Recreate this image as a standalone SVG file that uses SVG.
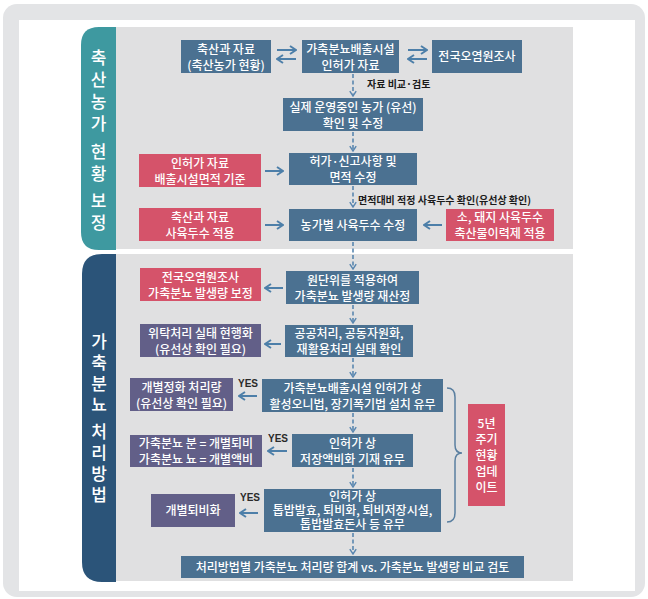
<svg xmlns="http://www.w3.org/2000/svg" width="648" height="599" viewBox="0 0 648 599">
<style>
.bx{fill:#4b7191}
.rd{fill:#d5536a}
.pp{fill:#625f88}
.t{fill:#fff;font-family:"Noto Sans CJK KR","Noto Sans",sans-serif;font-size:12px;font-weight:500;text-anchor:middle}
.side{fill:#fff;font-family:"Noto Sans CJK KR","Noto Sans",sans-serif;font-size:17px;font-weight:500;text-anchor:middle}
.lab{fill:#1a1a1a;font-family:"Noto Sans CJK KR","Noto Sans",sans-serif;font-size:10px;font-weight:700}
.yes{fill:#2a2a2a;font-family:"Liberation Sans",sans-serif;font-size:10px;font-weight:700}
.ar{stroke:#4d7fa9;stroke-width:2;fill:none}
.da{stroke:#5a87b0;stroke-width:1.6;fill:none;stroke-dasharray:4 2.5}
</style>
<defs>
<marker id="h" viewBox="0 0 8 10" refX="7" refY="5" markerWidth="8" markerHeight="10" markerUnits="userSpaceOnUse" orient="auto">
<path d="M1,1 L7,5 L1,9" fill="none" stroke="#4d7fa9" stroke-width="2"/>
</marker>
<marker id="hd" viewBox="0 0 8 10" refX="7" refY="5" markerWidth="7" markerHeight="8" markerUnits="userSpaceOnUse" orient="auto">
<path d="M1,1 L7,5 L1,9" fill="none" stroke="#5a87b0" stroke-width="1.8"/>
</marker>
</defs>
<rect x="3" y="4" width="642" height="593" rx="14" fill="#e3e4e6"/>
<rect x="19" y="20" width="616" height="571" fill="#ffffff"/>
<g id="section1">
<rect x="116" y="27" width="457" height="222" fill="#e0e0e1"/>
<path d="M116,27 L99,27 Q81,27 81,45 L81,232 Q81,250 99,250 L116,250 Z" fill="#3e99a0"/>
<text class="side"><tspan x="98.5" y="64">축</tspan><tspan x="98.5" y="86">산</tspan><tspan x="98.5" y="108">농</tspan><tspan x="98.5" y="130">가</tspan><tspan x="98.5" y="158">현</tspan><tspan x="98.5" y="180">황</tspan><tspan x="98.5" y="207">보</tspan><tspan x="98.5" y="229">정</tspan></text>
</g>
<g id="section2">
<rect x="116" y="254" width="457" height="327" fill="#e0e0e1"/>
<path d="M116,254 L102,254 Q82,254 82,274 L82,562 Q82,582 102,582 L116,582 Z" fill="#2b5479"/>
<text class="side"><tspan x="99" y="348">가</tspan><tspan x="99" y="369">축</tspan><tspan x="99" y="390">분</tspan><tspan x="99" y="411">뇨</tspan><tspan x="99" y="438">처</tspan><tspan x="99" y="459">리</tspan><tspan x="99" y="480">방</tspan><tspan x="99" y="501">법</tspan></text>
</g>
<g id="connectors">
<line class="ar" x1="277" y1="50" x2="296" y2="50" marker-end="url(#h)"/>
<line class="ar" x1="296" y1="59" x2="277" y2="59" marker-end="url(#h)"/>
<line class="ar" x1="408" y1="50" x2="427" y2="50" marker-end="url(#h)"/>
<line class="ar" x1="427" y1="59" x2="408" y2="59" marker-end="url(#h)"/>
<line class="da" x1="353" y1="74" x2="353" y2="96" marker-end="url(#hd)"/>
<line class="da" x1="353" y1="132" x2="353" y2="151" marker-end="url(#hd)"/>
<line class="da" x1="353" y1="186" x2="353" y2="207" marker-end="url(#hd)"/>
<line class="da" x1="353" y1="242" x2="353" y2="269" marker-end="url(#hd)"/>
<line class="da" x1="353" y1="305" x2="353" y2="323" marker-end="url(#hd)"/>
<line class="da" x1="353" y1="358" x2="353" y2="377" marker-end="url(#hd)"/>
<line class="da" x1="353" y1="413" x2="353" y2="432" marker-end="url(#hd)"/>
<line class="da" x1="353" y1="468" x2="353" y2="487" marker-end="url(#hd)"/>
<line class="da" x1="353" y1="533" x2="353" y2="554" marker-end="url(#hd)"/>
<line class="ar" x1="265" y1="171" x2="283" y2="171" marker-end="url(#h)"/>
<line class="ar" x1="265" y1="225" x2="283" y2="225" marker-end="url(#h)"/>
<line class="ar" x1="442" y1="225" x2="424" y2="225" marker-end="url(#h)"/>
<line class="ar" x1="283" y1="288" x2="265" y2="288" marker-end="url(#h)"/>
<line class="ar" x1="281" y1="344" x2="265" y2="344" marker-end="url(#h)"/>
<line class="ar" x1="257" y1="396" x2="239" y2="396" marker-end="url(#h)"/>
<line class="ar" x1="287" y1="451" x2="268" y2="451" marker-end="url(#h)"/>
<line class="ar" x1="258" y1="513" x2="240" y2="513" marker-end="url(#h)"/>
<path d="M447,388 Q455,388 455,397 L455,445 Q455,453 462,453 Q455,453 455,461 L455,513 Q455,522 447,522" fill="none" stroke="#5a7fa0" stroke-width="1.5"/>
<text class="lab" x="367" y="88">자료 비교·검토</text>
<text class="lab" x="358" y="204">면적대비 적정 사육두수 확인(유선상 확인)</text>
<text class="yes" x="238" y="387">YES</text>
<text class="yes" x="268" y="442">YES</text>
<text class="yes" x="240" y="501">YES</text>
</g>
<g id="n1"><rect class="bx" x="181" y="40" width="90" height="33"/><text class="t"><tspan x="226" y="53.5">축산과 자료</tspan><tspan x="226" y="69.5">(축산농가 현황)</tspan></text></g>
<g id="n2"><rect class="bx" x="302" y="40" width="97" height="33"/><text class="t"><tspan x="350.5" y="53.5">가축분뇨배출시설</tspan><tspan x="350.5" y="69.5">인허가 자료</tspan></text></g>
<g id="n3"><rect class="bx" x="432" y="40" width="90" height="33"/><text class="t" x="477" y="61">전국오염원조사</text></g>
<g id="n4"><rect class="bx" x="283" y="98" width="140" height="33"/><text class="t"><tspan x="353" y="111.5">실제 운영중인 농가 (유선)</tspan><tspan x="353" y="127.5">확인 및 수정</tspan></text></g>
<g id="n5"><rect class="rd" x="139" y="154" width="122" height="33"/><text class="t"><tspan x="200" y="167.5">인허가 자료</tspan><tspan x="200" y="183.5">배출시설면적 기준</tspan></text></g>
<g id="n6"><rect class="bx" x="289" y="153" width="128" height="32"/><text class="t"><tspan x="353" y="166">허가·신고사항 및</tspan><tspan x="353" y="182">면적 수정</tspan></text></g>
<g id="n7"><rect class="rd" x="139" y="208" width="122" height="33"/><text class="t"><tspan x="200" y="221.5">축산과 자료</tspan><tspan x="200" y="237.5">사육두수 적용</tspan></text></g>
<g id="n8"><rect class="bx" x="289" y="209" width="128" height="32"/><text class="t" x="353" y="229.5">농가별 사육두수 수정</text></g>
<g id="n9"><rect class="rd" x="446" y="209" width="108" height="32"/><text class="t"><tspan x="500" y="222">소, 돼지 사육두수</tspan><tspan x="500" y="238">축산물이력제 적용</tspan></text></g>
<g id="n10"><rect class="rd" x="140" y="268" width="121" height="33"/><text class="t"><tspan x="200.5" y="281.5">전국오염원조사</tspan><tspan x="200.5" y="297.5">가축분뇨 발생량 보정</tspan></text></g>
<g id="n11"><rect class="bx" x="286" y="271" width="133" height="33"/><text class="t"><tspan x="352.5" y="284.5">원단위를 적용하여</tspan><tspan x="352.5" y="300.5">가축분뇨 발생량 재산정</tspan></text></g>
<g id="n12"><rect class="pp" x="140" y="324" width="121" height="33"/><text class="t"><tspan x="200.5" y="337.5">위탁처리 실태 현행화</tspan><tspan x="200.5" y="353.5">(유선상 확인 필요)</tspan></text></g>
<g id="n13"><rect class="bx" x="285" y="325" width="128" height="32"/><text class="t"><tspan x="349" y="338">공공처리, 공동자원화,</tspan><tspan x="349" y="354">재활용처리 실태 확인</tspan></text></g>
<g id="n14"><rect class="pp" x="130" y="378" width="103" height="33"/><text class="t"><tspan x="181.5" y="391.5">개별정화 처리량</tspan><tspan x="181.5" y="407.5">(유선상 확인 필요)</tspan></text></g>
<g id="n15"><rect class="bx" x="262" y="379" width="181" height="33"/><text class="t"><tspan x="352.5" y="392.5">가축분뇨배출시설 인허가 상</tspan><tspan x="352.5" y="408.5">활성오니법, 장기폭기법 설치 유무</tspan></text></g>
<g id="n16"><rect class="pp" x="130" y="435" width="132" height="32"/><text class="t"><tspan x="196" y="448">가축분뇨 분 = 개별퇴비</tspan><tspan x="196" y="464">가축분뇨 뇨 = 개별액비</tspan></text></g>
<g id="n17"><rect class="bx" x="292" y="434" width="121" height="33"/><text class="t"><tspan x="352.5" y="447.5">인허가 상</tspan><tspan x="352.5" y="463.5">저장액비화 기재 유무</tspan></text></g>
<g id="n18"><rect class="pp" x="151" y="494" width="84" height="33"/><text class="t" x="193" y="515">개별퇴비화</text></g>
<g id="n19"><rect class="bx" x="264" y="489" width="177" height="43"/><text class="t"><tspan x="352.5" y="500.5">인허가 상</tspan><tspan x="352.5" y="514.5">톱밥발효, 퇴비화, 퇴비저장시설,</tspan><tspan x="352.5" y="528.5">톱밥발효돈사 등 유무</tspan></text></g>
<g id="n20"><rect class="rd" x="468" y="404" width="37" height="102"/><text class="t"><tspan x="486.5" y="427.5">5년</tspan><tspan x="486.5" y="443.5">주기</tspan><tspan x="486.5" y="459.5">현황</tspan><tspan x="486.5" y="475.5">업데</tspan><tspan x="486.5" y="491.5">이트</tspan></text></g>
<g id="n21"><rect class="bx" x="181" y="556" width="343" height="22"/><text class="t" x="352.5" y="571.5">처리방법별 가축분뇨 처리량 합계 vs. 가축분뇨 발생량 비교 검토</text></g>
</svg>
